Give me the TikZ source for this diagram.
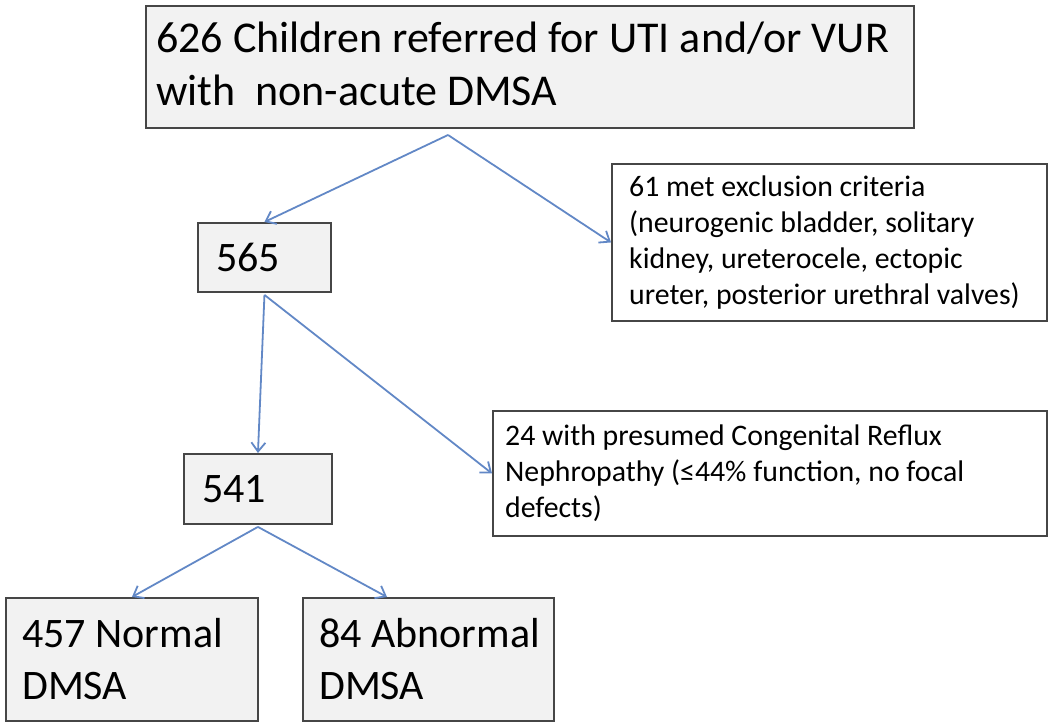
\documentclass[tikz,border=0pt]{standalone}
\usepackage{fontspec}
\setmainfont{Carlito}
\usetikzlibrary{arrows.meta,shadows,calc}
\definecolor{arrowblue}{RGB}{98,136,198}
\definecolor{boxfill}{RGB}{242,242,242}
\definecolor{boxline}{RGB}{70,70,70}
\begin{document}
\begin{tikzpicture}[x=1pt,y=-1pt,
  boxbase/.style={draw=boxline, line width=1.9pt, rectangle, anchor=north west, inner sep=0pt,
    drop shadow={shadow xshift=1.5pt, shadow yshift=-1.5pt, fill=black!35}},
  bigbox/.style={boxbase, fill=boxfill},
  sidebox/.style={boxbase, fill=white},
  bigtext/.style={anchor=west, align=flush left, inner sep=0pt, font=\fontsize{42}{52}\selectfont},
  sidetext/.style={anchor=west, align=flush left, inner sep=0pt, font=\fontsize{29.8}{36}\selectfont},
  link/.style={draw=arrowblue, line width=1.8pt, -{Straight Barb[length=9pt,width=14pt]}},
]
\useasboundingbox (0,0) rectangle (1050,726);

% boxes
\node[bigbox, minimum width=768pt, minimum height=122pt] (top) at (145,5) {};
\node[bigbox, minimum width=133pt, minimum height=69pt] (n565) at (197,222) {};
\node[sidebox, minimum width=435pt, minimum height=157pt] (n61) at (611,163) {};
\node[bigbox, minimum width=148pt, minimum height=70pt] (n541) at (183,453) {};
\node[sidebox, minimum width=554pt, minimum height=125pt] (n24) at (492,410) {};
\node[bigbox, minimum width=252pt, minimum height=123pt] (n457) at (5,597) {};
\node[bigbox, minimum width=251pt, minimum height=123pt] (n84) at (302,597) {};

% texts
\node[bigtext, font=\fontsize{44}{53}\selectfont] (topt) at ([xshift=11pt,yshift=3pt]top.west)
  {626 Children referred for UTI and/or VUR\\with~ non-acute DMSA};
\node[bigtext] (t565) at ([xshift=19pt]n565.west) {565};
\node[sidetext] (t61) at ([xshift=18pt]n61.west)
  {61 met exclusion criteria\\(neurogenic bladder, solitary\\kidney, ureterocele, ectopic\\ureter, posterior urethral valves)};
\node[bigtext] (t541) at ([xshift=19pt]n541.west) {541};
\node[sidetext] (t24) at ([xshift=13pt]n24.west)
  {24 with presumed Congenital Reflux\\Nephropathy (≤44\% function, no focal\\defects)};
\node[bigtext] (t457) at ([xshift=17pt]n457.west) {457 Normal\\DMSA};
\node[bigtext] (t84) at ([xshift=17pt]n84.west) {84 Abnormal\\DMSA};

% connectors
\coordinate (split1) at (448,135);
\coordinate (split2) at ($(n565.south)+(0,2)$);
\coordinate (split3) at ($(n541.south)+(0,2)$);
\draw[link] (split1) -- (n565.north);
\draw[link] (split1) -- (n61.west);
\draw[link] (split2) -- (n541.north);
\draw[link] (split2) -- (n24.west);
\draw[link] (split3) -- (n457.north);
\draw[link] (split3) -- ([xshift=85pt]n84.north west);
\end{tikzpicture}
\end{document}
